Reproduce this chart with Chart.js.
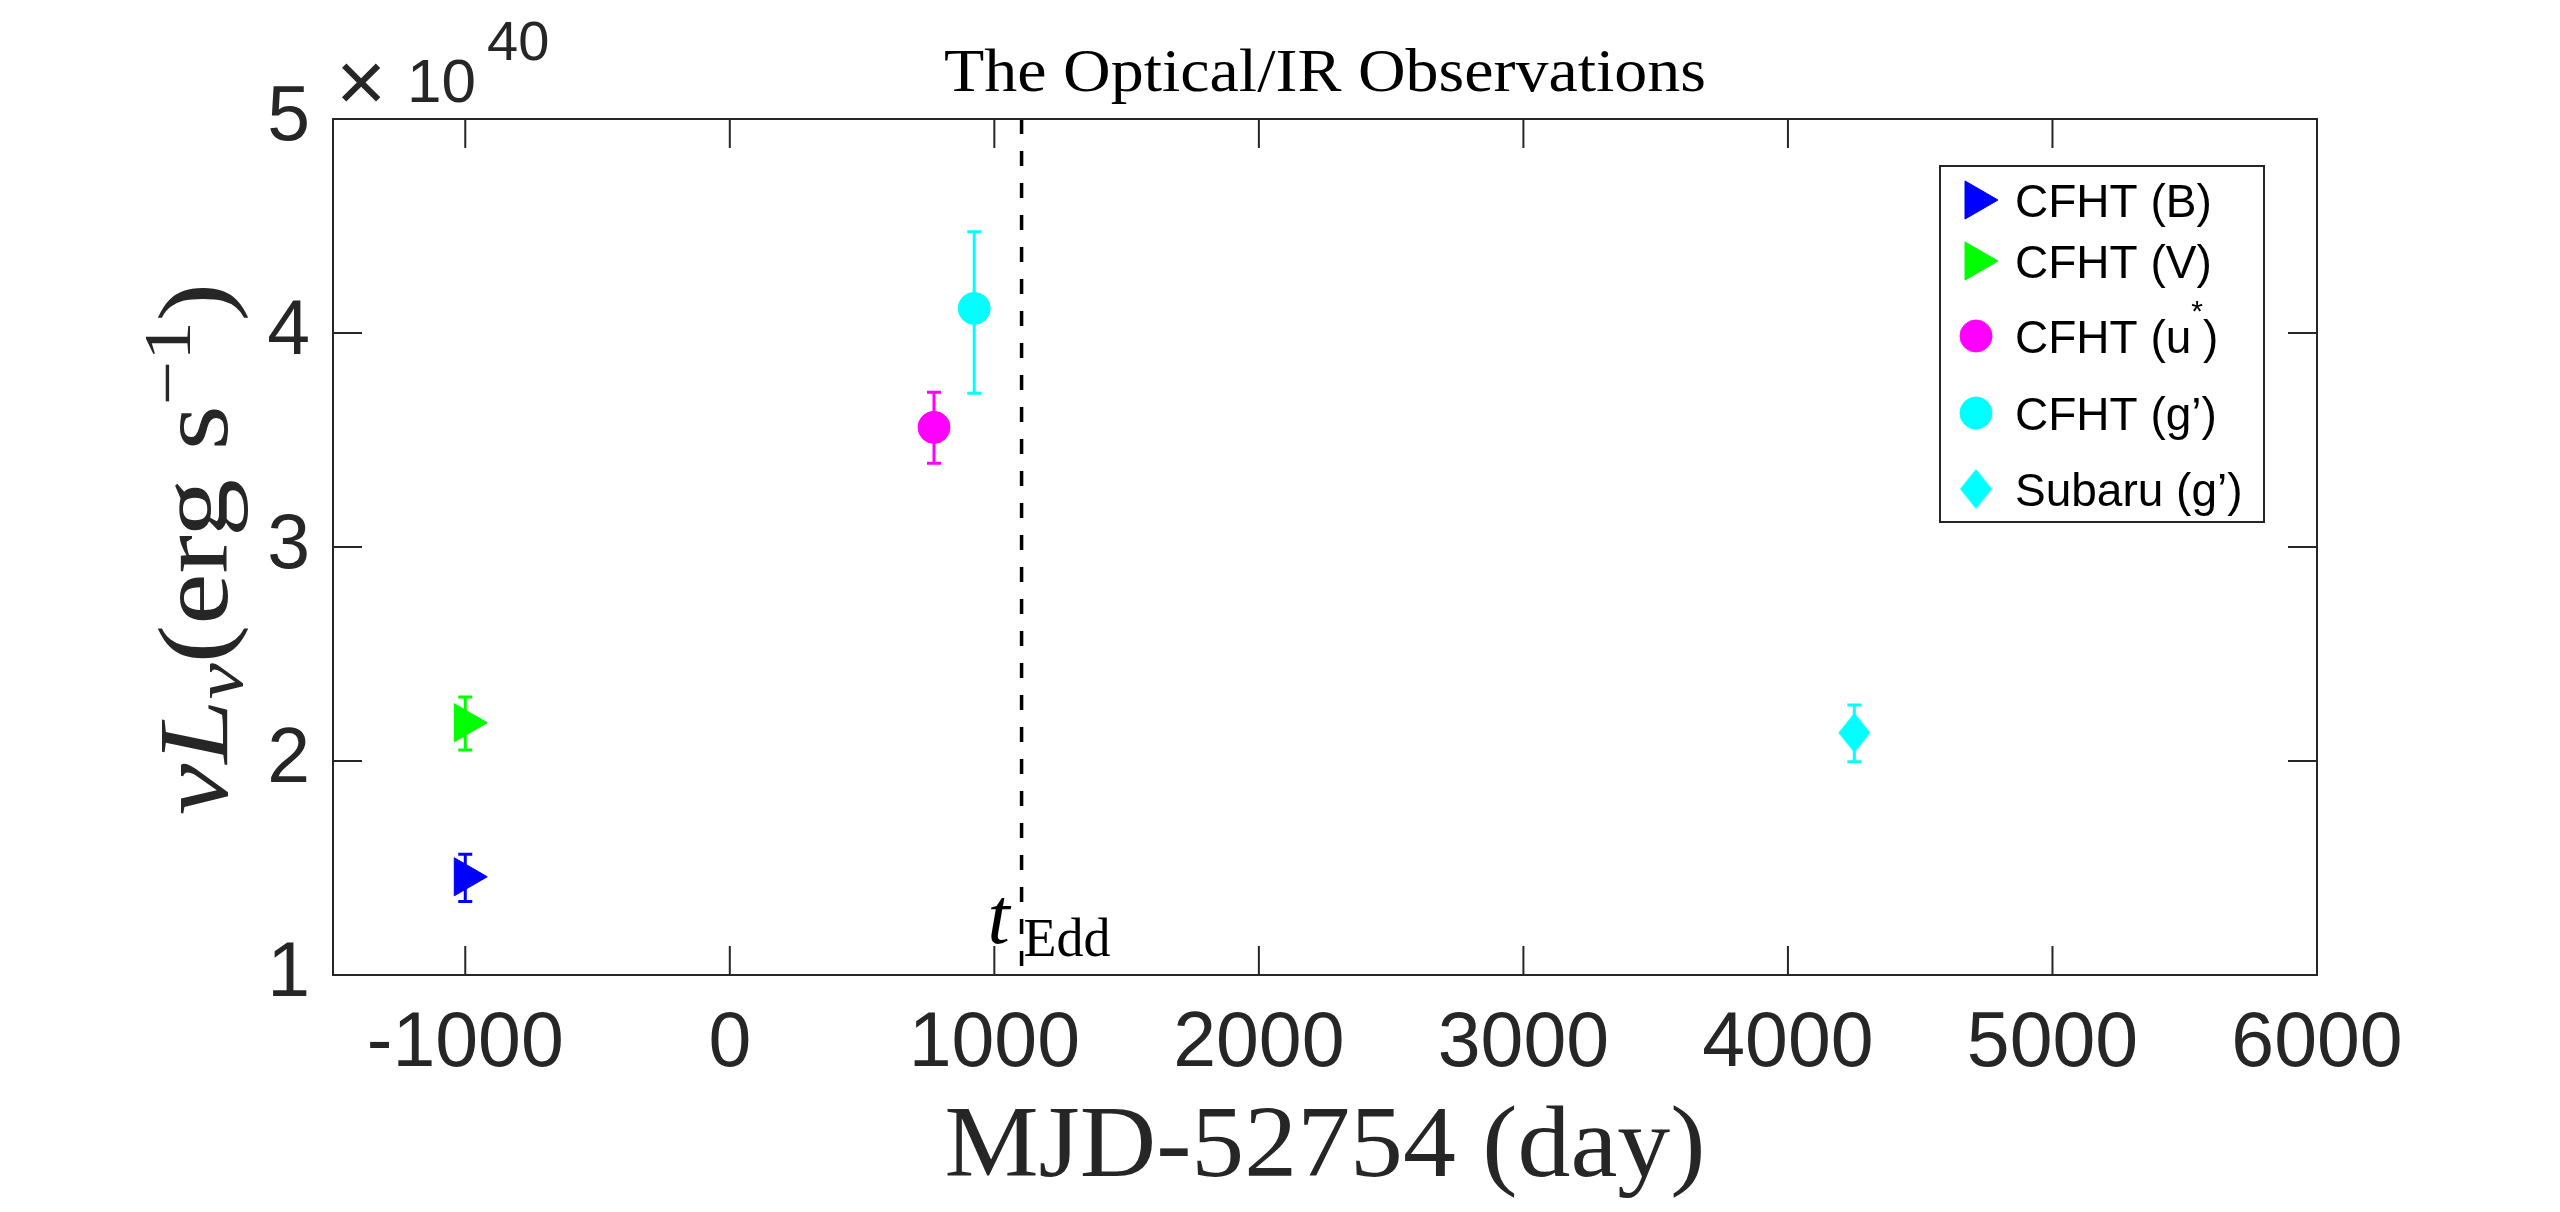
<!DOCTYPE html>
<html>
<head>
<meta charset="utf-8">
<title>The Optical/IR Observations</title>
<script src="https://cdn.jsdelivr.net/npm/chart.js@4.4.1/dist/chart.umd.min.js"></script>
<style>
  html, body { margin: 0; padding: 0; background: #fff; }
  #wrap { width: 2560px; height: 1212px; }
</style>
</head>
<body>
<div id="wrap"><canvas id="chart" width="2560" height="1212"></canvas></div>
<script>
// Observations, luminosity in units of 1e40 erg/s
const seriesNames = ['CFHT (B)', 'CFHT (V)', 'CFHT (u^*)', 'CFHT (g\u2019)', 'Subaru (g\u2019)'];
const obsDays = [-1000, -1000, 772, 924, 4251];
const lumValues = [1.459, 2.179, 3.559, 4.115, 2.132];
const errLow = [0.116, 0.128, 0.168, 0.397, 0.135];
const errHigh = [0.105, 0.120, 0.164, 0.358, 0.130];
const seriesColors = ['#0000ff', '#00ff00', '#ff00ff', '#00ffff', '#00ffff'];
const seriesMarkers = ['triangle', 'triangle', 'circle', 'circle', 'diamond'];

const xTicks = [-1000, 0, 1000, 2000, 3000, 4000, 5000, 6000];
const yTicks = [1, 2, 3, 4, 5];
const xRange = [-1500, 6000];
const yRange = [1, 5];
const tEdd = 1103;

const AXIS_COLOR = '#262626';
const SANS = '"Liberation Sans", Arial, sans-serif';
const SERIF = '"Liberation Serif", "Times New Roman", serif';

// MATLAB-like diamond (taller than wide)
function makeDiamond(color) {
    const c = document.createElement('canvas');
    c.width = 33;
    c.height = 41;
    const g = c.getContext('2d');
    g.fillStyle = color;
    g.beginPath();
    g.moveTo(16.5, 0.5);
    g.lineTo(32.5, 20.5);
    g.lineTo(16.5, 40.5);
    g.lineTo(0.5, 20.5);
    g.closePath();
    g.fill();
    return c;
}

function markerOptions(kind, color) {
    if (kind === 'triangle') return { pointStyle: 'triangle', radius: 22, rotation: 90 };
    if (kind === 'diamond') return { pointStyle: makeDiamond(color), radius: 20, rotation: 0 };
    return { pointStyle: 'circle', radius: 16, rotation: 0 };
}

const datasets = seriesNames.map((name, i) => {
    const m = markerOptions(seriesMarkers[i], seriesColors[i]);
    return {
        label: name,
        data: [{ x: obsDays[i], y: lumValues[i] }],
        backgroundColor: seriesColors[i],
        borderColor: seriesColors[i],
        borderWidth: 1,
        pointStyle: m.pointStyle,
        pointRadius: m.radius,
        pointRotation: m.rotation,
        showLine: false
    };
});

// draw a list of text runs {text, font, dy} in a row, optionally stretched to a width
function drawRuns(ctx, runs, x, y, align, targetWidth) {
    let total = 0;
    runs.forEach(r => {
        ctx.font = r.font;
        r.w = ctx.measureText(r.text).width;
        total += r.w;
    });
    const sx = targetWidth ? targetWidth / total : 1;
    ctx.save();
    ctx.translate(x, y);
    ctx.scale(sx, 1);
    let cx = align === 'center' ? -total / 2 : 0;
    ctx.textAlign = 'left';
    ctx.textBaseline = 'alphabetic';
    runs.forEach(r => {
        ctx.font = r.font;
        ctx.fillText(r.text, cx, r.dy || 0);
        cx += r.w;
    });
    ctx.restore();
}

const errorBars = {
    id: 'errorBars',
    beforeDatasetsDraw(chart) {
        const ctx = chart.ctx;
        const ys = chart.scales.y;
        ctx.save();
        ctx.lineWidth = 3;
        chart.data.datasets.forEach((ds, i) => {
            const pt = chart.getDatasetMeta(i).data[0];
            const top = ys.getPixelForValue(lumValues[i] + errHigh[i]);
            const bot = ys.getPixelForValue(lumValues[i] - errLow[i]);
            ctx.strokeStyle = seriesColors[i];
            ctx.beginPath();
            ctx.moveTo(pt.x, top);
            ctx.lineTo(pt.x, bot);
            ctx.moveTo(pt.x - 7, top);
            ctx.lineTo(pt.x + 7, top);
            ctx.moveTo(pt.x - 7, bot);
            ctx.lineTo(pt.x + 7, bot);
            ctx.stroke();
        });
        ctx.restore();
    }
};

const decorations = {
    id: 'decorations',
    afterDatasetsDraw(chart) {
        const ctx = chart.ctx;
        const a = chart.chartArea;
        const xs = chart.scales.x;
        const ys = chart.scales.y;

        // Eddington time marker
        const lx = xs.getPixelForValue(tEdd);
        ctx.save();
        ctx.strokeStyle = '#000';
        ctx.lineWidth = 3.5;
        ctx.setLineDash([15, 17]);
        ctx.beginPath();
        ctx.moveTo(lx, a.top);
        ctx.lineTo(lx, a.bottom);
        ctx.stroke();
        ctx.restore();

        ctx.fillStyle = '#000';
        drawRuns(ctx, [{ text: 't', font: 'italic 80px ' + SERIF }], lx - 34, a.bottom - 32, 'left');
        drawRuns(ctx, [{ text: 'Edd', font: '54px ' + SERIF }], lx + 2, a.bottom - 19, 'left');

        // axes box with inward ticks
        ctx.save();
        ctx.strokeStyle = AXIS_COLOR;
        ctx.lineWidth = 2;
        ctx.strokeRect(a.left, a.top, a.right - a.left, a.bottom - a.top);
        const tl = 29;
        ctx.beginPath();
        xTicks.forEach(v => {
            const px = xs.getPixelForValue(v);
            ctx.moveTo(px, a.bottom);
            ctx.lineTo(px, a.bottom - tl);
            ctx.moveTo(px, a.top);
            ctx.lineTo(px, a.top + tl);
        });
        yTicks.forEach(v => {
            const py = ys.getPixelForValue(v);
            ctx.moveTo(a.left, py);
            ctx.lineTo(a.left + tl, py);
            ctx.moveTo(a.right, py);
            ctx.lineTo(a.right - tl, py);
        });
        ctx.stroke();
        ctx.restore();

        // legend
        const lg = { left: 1940, top: 166, right: 2264, bottom: 522 };
        const rowY = [200, 261, 336, 413, 489];
        ctx.save();
        ctx.fillStyle = '#fff';
        ctx.fillRect(lg.left, lg.top, lg.right - lg.left, lg.bottom - lg.top);
        ctx.strokeStyle = AXIS_COLOR;
        ctx.lineWidth = 2;
        ctx.strokeRect(lg.left, lg.top, lg.right - lg.left, lg.bottom - lg.top);
        chart.data.datasets.forEach((ds, i) => {
            const cy = rowY[i];
            ctx.fillStyle = seriesColors[i];
            ctx.strokeStyle = seriesColors[i];
            ctx.lineWidth = 1;
            Chart.helpers.drawPoint(ctx, {
                pointStyle: ds.pointStyle,
                radius: ds.pointRadius,
                rotation: ds.pointRotation,
                borderWidth: 1
            }, 1976, cy);
            ctx.fillStyle = '#000';
            const parts = seriesNames[i].split('^');
            const runs = [];
            if (parts.length > 1) {
                runs.push({ text: parts[0], font: '46px ' + SANS });
                runs.push({ text: parts[1].charAt(0), font: '30px ' + SANS, dy: -32 });
                runs.push({ text: parts[1].slice(1), font: '46px ' + SANS });
            } else {
                runs.push({ text: parts[0], font: '46px ' + SANS });
            }
            drawRuns(ctx, runs, 2015, cy + 17, 'left');
        });
        ctx.restore();

        // title
        ctx.fillStyle = '#000';
        drawRuns(ctx, [{ text: 'The Optical/IR Observations', font: '62px ' + SERIF }],
            (a.left + a.right) / 2, 91, 'center', 762);

        // x axis title
        ctx.fillStyle = AXIS_COLOR;
        drawRuns(ctx, [{ text: 'MJD-52754 (day)', font: '102px ' + SERIF }],
            (a.left + a.right) / 2, 1176, 'center', 761);

        // y axis title
        ctx.save();
        ctx.translate(227, (a.top + a.bottom) / 2 + 2);
        ctx.rotate(-Math.PI / 2);
        drawRuns(ctx, [
            { text: '\u03bd', font: 'italic 100px ' + SERIF },
            { text: 'L', font: 'italic 100px ' + SERIF },
            { text: '\u03bd', font: 'italic 70px ' + SERIF, dy: 15 },
            { text: '(erg s', font: '100px ' + SERIF },
            { text: '\u22121', font: '68px ' + SERIF, dy: -37 },
            { text: ')', font: '100px ' + SERIF }
        ], 0, 0, 'center', 532);
        ctx.restore();

        // exponent label
        ctx.fillStyle = AXIS_COLOR;
        drawRuns(ctx, [{ text: '\u00d7', font: '86px ' + SANS }], 336, 111, 'left');
        drawRuns(ctx, [{ text: '10', font: '62px ' + SANS }], 407, 102, 'left');
        drawRuns(ctx, [{ text: '40', font: '56px ' + SANS }], 487, 60, 'left');
    }
};

new Chart(document.getElementById('chart'), {
    type: 'scatter',
    data: { datasets: datasets },
    plugins: [errorBars, decorations],
    options: {
        responsive: false,
        devicePixelRatio: 1,
        animation: false,
        layout: { padding: { top: 119, right: 243, bottom: 0, left: 0 } },
        plugins: {
            legend: { display: false },
            tooltip: { enabled: false },
            title: { display: false }
        },
        scales: {
            x: {
                type: 'linear',
                min: xRange[0],
                max: xRange[1],
                afterBuildTicks: s => { s.ticks = xTicks.map(v => ({ value: v })); },
                afterFit: s => { s.height = 237; },
                grid: { display: false, drawTicks: false },
                border: { display: false },
                ticks: {
                    autoSkip: false,
                    maxRotation: 0,
                    padding: 31,
                    color: AXIS_COLOR,
                    font: { family: SANS, size: 77, lineHeight: 1 },
                    callback: v => String(v)
                }
            },
            y: {
                type: 'linear',
                min: yRange[0],
                max: yRange[1],
                afterBuildTicks: s => { s.ticks = yTicks.map(v => ({ value: v })); },
                afterFit: s => { s.width = 333; },
                grid: { display: false, drawTicks: false },
                border: { display: false },
                ticks: {
                    padding: 23,
                    color: AXIS_COLOR,
                    font: { family: SANS, size: 77, lineHeight: 1 },
                    callback: v => String(v)
                }
            }
        }
    }
});
</script>
</body>
</html>
